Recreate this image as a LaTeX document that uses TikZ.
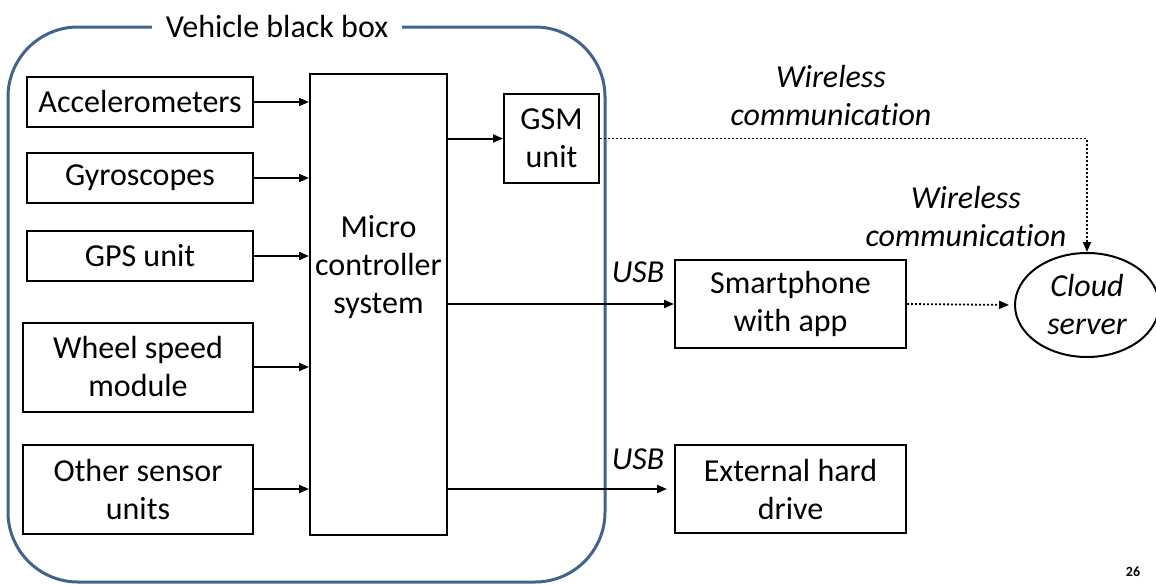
\documentclass[tikz,border=0pt]{standalone}
\usepackage{fontspec}
\setmainfont{Carlito}[Ligatures={NoCommon}]
\usetikzlibrary{arrows.meta,shapes.geometric}
\definecolor{boxblue}{HTML}{41648F}
\begin{document}
\begin{tikzpicture}[x=0.5pt,y=-0.5pt,
  blk/.style={draw,line width=1pt,align=center,inner sep=0pt,font=\fontsize{16}{19}\selectfont},
  arr/.style={line width=1pt,-{Triangle[length=5pt,width=4pt]}},
  dotarr/.style={line width=0.9pt,dash pattern=on 1pt off 1pt,-{Triangle[length=5pt,width=4pt]}},
  lbl/.style={font=\fontsize{16}{19}\selectfont\itshape,align=center,inner sep=0pt}]
\useasboundingbox (0,0) rectangle (1156,584);
% black box outline
\draw[boxblue,line width=1.5pt,rounded corners=35pt] (8,27) rectangle (605,582);
\node[fill=white,inner xsep=7pt,inner ysep=2pt,font=\fontsize{16}{19}\selectfont] (title) at (277,27) {Vehicle black box};
% sensors
\node[blk,minimum width=113pt,minimum height=25pt] (acc) at (140,102) {Accelerometers};
\node[blk,minimum width=113pt,minimum height=25pt] (gyro) at (140,178) {Gyroscopes};
\node[blk,minimum width=113pt,minimum height=25pt] (gps) at (140,256) {GPS unit};
\node[blk,minimum width=115pt,minimum height=44.5pt] (wheel) at (138,367) {Wheel speed\\module};
\node[blk,minimum width=115pt,minimum height=44.5pt] (other) at (138,489) {Other sensor\\units};
% microcontroller
\node[blk,minimum width=68.5pt,minimum height=230.5pt] (mcu) at (378.5,304.5) {};
\node[lbl,font=\fontsize{16}{19}\selectfont] (mcutext) at (378.5,267) {Micro\\controller\\system};
% outputs
\node[blk,minimum width=47.5pt,minimum height=44.5pt] (gsm) at (551.5,138.5) {GSM\\unit};
\node[blk,minimum width=115.5pt,minimum height=44pt] (smart) at (790.5,304) {Smartphone\\with app};
\node[blk,minimum width=115.5pt,minimum height=44pt] (hdd) at (790.5,489) {External hard\\drive};
\node[draw,line width=1pt,ellipse,inner sep=0pt,minimum width=72pt,minimum height=52pt,align=center,font=\fontsize{16}{19}\selectfont\itshape] (cloud) at (1087,305) {Cloud\\server};
% arrows
\draw[arr] (acc.east) -- (acc.east -| mcu.west);
\draw[arr] (gyro.east) -- (gyro.east -| mcu.west);
\draw[arr] (gps.east) -- (gps.east -| mcu.west);
\draw[arr] (wheel.east) -- (wheel.east -| mcu.west);
\draw[arr] (other.east) -- (other.east -| mcu.west);
\draw[arr] (mcu.east |- gsm.west) -- (gsm.west);
\draw[arr] (mcu.east |- smart.west) -- (smart.west);
\draw[arr,shorten >=3.5pt] (mcu.east |- hdd.west) -- (hdd.west);
\draw[dotarr] (gsm.east) -| (cloud.north);
\draw[dotarr,shorten >=2.5pt] (smart.east) -- (cloud.west);
% labels
\node[lbl] (usb1) at (638,272) {USB};
\node[lbl] (usb2) at (638,459) {USB};
\node[lbl] (w1) at (831,96) {Wireless\\communication};
\node[lbl] (w2) at (966,217) {Wireless\\communication};
\node[font=\fontsize{7}{8}\selectfont\bfseries] (pg) at (1133,572) {26};
\end{tikzpicture}
\end{document}
